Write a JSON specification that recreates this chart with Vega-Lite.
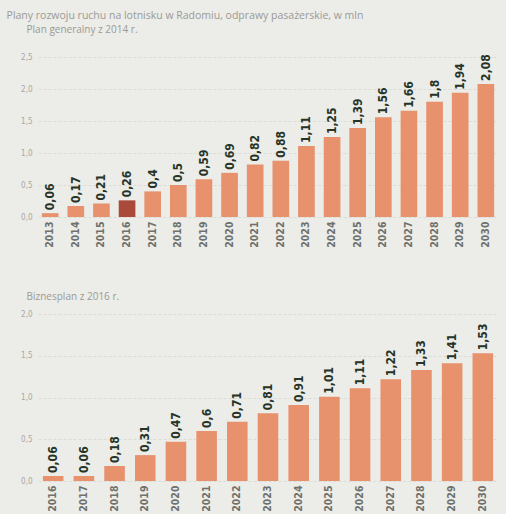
{
  "$schema": "https://vega.github.io/schema/vega-lite/v6.json",
  "background": "#ECECE8",
  "padding": {"left": 6, "top": 10, "right": 8, "bottom": 2},
  "title": {"text": "Plany rozwoju ruchu na lotnisku w Radomiu, odprawy pasażerskie, w mln", "anchor": "start", "fontSize": 10.5, "font": "Open Sans", "fontWeight": "normal", "color": "#9a9a96", "offset": 4, "dx": -14},
  "config": {
    "locale": {"number": {"decimal": ",", "thousands": " ", "grouping": [3], "currency": ["", " zł"]}},
    "view": {"stroke": null},
    "axis": {"labelFont": "DejaVu Sans Condensed, Roboto, sans-serif", "titleFont": "Open Sans"},
    "title": {"font": "Open Sans"}
  },
  "spacing": 44,
  "vconcat": [
    {
      "title": {"text": "Plan generalny z 2014 r.", "anchor": "start", "fontSize": 10, "fontWeight": "normal", "color": "#9a9a96", "offset": 18, "dx": 6},
      "width": 460,
      "height": 160,
      "data": {"values": [
        {"year": 2013, "value": 0.06}, {"year": 2014, "value": 0.17}, {"year": 2015, "value": 0.21},
        {"year": 2016, "value": 0.26}, {"year": 2017, "value": 0.4}, {"year": 2018, "value": 0.5},
        {"year": 2019, "value": 0.59}, {"year": 2020, "value": 0.69}, {"year": 2021, "value": 0.82},
        {"year": 2022, "value": 0.88}, {"year": 2023, "value": 1.11}, {"year": 2024, "value": 1.25},
        {"year": 2025, "value": 1.39}, {"year": 2026, "value": 1.56}, {"year": 2027, "value": 1.66},
        {"year": 2028, "value": 1.8}, {"year": 2029, "value": 1.94}, {"year": 2030, "value": 2.08}
      ]},
      "encoding": {
        "x": {"field": "year", "type": "ordinal", "scale": {"paddingInner": 0.35, "paddingOuter": 0.15},
              "axis": {"title": null, "labelAngle": -90, "labelFontSize": 10.5, "labelFontWeight": "bold", "labelColor": "#6f716c", "ticks": false, "domain": false, "labelPadding": 4}},
        "y": {"field": "value", "type": "quantitative", "scale": {"domain": [0, 2.5]},
              "axis": {"title": null, "values": [0, 0.5, 1, 1.5, 2, 2.5], "format": ".1f", "labelFontSize": 8, "labelColor": "#a8a8a4", "ticks": false, "domain": false, "gridColor": "#dcdcd6", "gridDash": [3, 2], "labelPadding": 6}}
      },
      "layer": [
        {"mark": {"type": "bar"},
         "encoding": {"color": {"condition": {"test": "datum.year == 2016", "value": "#A94A3B"}, "value": "#E8916D"}}},
        {"mark": {"type": "text", "angle": -90, "align": "left", "baseline": "middle", "dx": 3, "font": "DejaVu Sans Condensed, Roboto, sans-serif", "fontSize": 12, "fontWeight": "bold", "color": "#263427"},
         "encoding": {"text": {"field": "value", "type": "quantitative", "format": ".2~f"}}}
      ]
    },
    {
      "title": {"text": "Biznesplan z 2016 r.", "anchor": "start", "fontSize": 10, "fontWeight": "normal", "color": "#9a9a96", "offset": 8, "dx": 6},
      "width": 460,
      "height": 167,
      "data": {"values": [
        {"year": 2016, "value": 0.06}, {"year": 2017, "value": 0.06}, {"year": 2018, "value": 0.18},
        {"year": 2019, "value": 0.31}, {"year": 2020, "value": 0.47}, {"year": 2021, "value": 0.6},
        {"year": 2022, "value": 0.71}, {"year": 2023, "value": 0.81}, {"year": 2024, "value": 0.91},
        {"year": 2025, "value": 1.01}, {"year": 2026, "value": 1.11}, {"year": 2027, "value": 1.22},
        {"year": 2028, "value": 1.33}, {"year": 2029, "value": 1.41}, {"year": 2030, "value": 1.53}
      ]},
      "encoding": {
        "x": {"field": "year", "type": "ordinal", "scale": {"paddingInner": 0.33, "paddingOuter": 0.16},
              "axis": {"title": null, "labelAngle": -90, "labelFontSize": 10.5, "labelFontWeight": "bold", "labelColor": "#6f716c", "ticks": false, "domain": false, "labelPadding": 4}},
        "y": {"field": "value", "type": "quantitative", "scale": {"domain": [0, 2]},
              "axis": {"title": null, "values": [0, 0.5, 1, 1.5, 2], "format": ".1f", "labelFontSize": 8, "labelColor": "#a8a8a4", "ticks": false, "domain": false, "gridColor": "#dcdcd6", "gridDash": [3, 2], "labelPadding": 6}}
      },
      "layer": [
        {"mark": {"type": "bar", "color": "#E8916D"}},
        {"mark": {"type": "text", "angle": -90, "align": "left", "baseline": "middle", "dx": 3, "font": "DejaVu Sans Condensed, Roboto, sans-serif", "fontSize": 12, "fontWeight": "bold", "color": "#263427"},
         "encoding": {"text": {"field": "value", "type": "quantitative", "format": ".2~f"}}}
      ]
    }
  ]
}
